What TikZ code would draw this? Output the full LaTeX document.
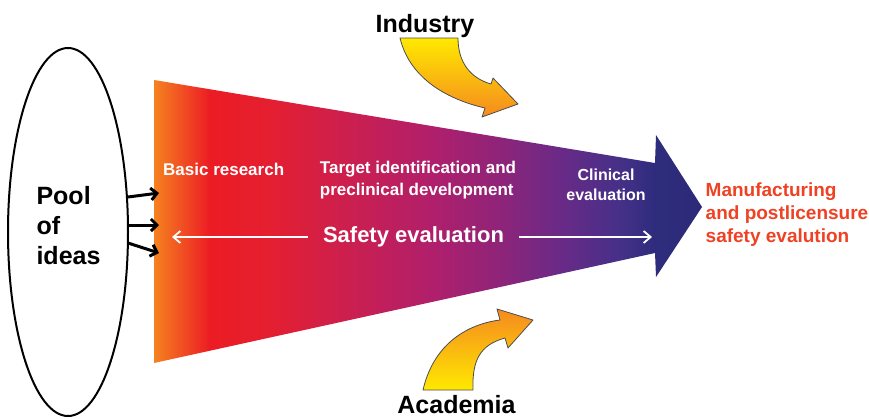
\documentclass[tikz,border=0pt]{standalone}
\usepackage{fontspec}
\setmainfont{Liberation Sans}
\usetikzlibrary{arrows.meta,shapes.geometric}
\definecolor{cA}{HTML}{F58220}
\definecolor{cB}{HTML}{EC1C24}
\definecolor{cC}{HTML}{E41F30}
\definecolor{cD}{HTML}{CB1F50}
\definecolor{cE}{HTML}{B11F6B}
\definecolor{cF}{HTML}{8E2479}
\definecolor{cG}{HTML}{6A2A87}
\definecolor{cH}{HTML}{453088}
\definecolor{cI}{HTML}{2E2C7C}
\definecolor{cJ}{HTML}{2C2A78}
\definecolor{ylw}{HTML}{FFE900}
\definecolor{org}{HTML}{F58A1F}
\definecolor{edgegray}{HTML}{4D4D4D}
\definecolor{mfgred}{HTML}{EF4123}
\pgfdeclarehorizontalshading{funnelshade}{100bp}{color(0bp)=(cA); color(25bp)=(cA); color(30.1bp)=(cB); color(35.6bp)=(cC); color(42.9bp)=(cD); color(50.2bp)=(cE); color(56.6bp)=(cF); color(62bp)=(cG); color(67.5bp)=(cH); color(70.8bp)=(cI); color(75bp)=(cJ); color(100bp)=(cJ)}
\begin{document}
\begin{tikzpicture}[x=1pt,y=-1pt,
  wlbl/.style={font=\bfseries\fontsize{17}{22}\selectfont, text=white, inner sep=0pt},
  big/.style={font=\bfseries\fontsize{25}{30}\selectfont, text=black, inner sep=0pt},
  blk/.style={draw=black, line width=3pt, -{Straight Barb[length=6pt,width=12pt]}},
  wht/.style={draw=white, line width=1.8pt, -{Straight Barb[length=7pt,width=12pt]}},
  curved/.style={draw=edgegray, line width=0.8pt, line join=round}]
\useasboundingbox (0,0) rectangle (869,418);
% funnel arrow
\shade[shading=funnelshade] (154,80) -- (655,163) -- (656,135) -- (702,207) -- (656,277) -- (655,253) -- (154,363) -- cycle;
% industry arrow
\shade[curved, top color=ylw, bottom color=org]
  (400,38) -- (458,38) .. controls (458,62) and (470,78) .. (491,84) -- (493,78) -- (518,104) -- (482,117) -- (485,108) .. controls (450,100) and (410,80) .. (400,38) -- cycle;
% academia arrow
\shade[curved, top color=org, bottom color=ylw]
  (423,390) -- (473,390) .. controls (472,360) and (480,345) .. (505,338) -- (508,348) -- (533,320) -- (497,309) -- (500,320) .. controls (475,323) and (435,338) .. (423,390) -- cycle;
% pool of ideas
\node[draw=black, ellipse, line width=2pt, minimum width=120pt, minimum height=368pt, inner sep=0pt] (pool) at (68,232) {};
\node[big, align=left] (pooltxt) at (68.5,226) {Pool\\of\\ideas};
\coordinate (p1) at (128,197); \coordinate (f1) at (159,193);
\coordinate (p2) at (128,225); \coordinate (f2) at (159,225);
\coordinate (p3) at (128,243); \coordinate (f3) at (159,253);
\draw[blk] (p1) -- (f1);
\draw[blk] (p2) -- (f2);
\draw[blk] (p3) -- (f3);
% labels in funnel
\node[wlbl, anchor=base west] (basic) at (163,175) {Basic research};
\node[wlbl, align=left] (target) at (418,179.6) {Target identification and\\preclinical development};
\node[wlbl, align=center, font=\bfseries\fontsize{16}{20}\selectfont] (clin) at (606,185) {Clinical\\evaluation};
\node[wlbl, font=\bfseries\fontsize{22}{26}\selectfont, anchor=base, inner xsep=15pt] (safety) at (413.5,242) {Safety evaluation};
\coordinate (sl) at (172,237);
\coordinate (sr) at (652,237);
\draw[wht] (safety.west |- sl) -- (sl);
\draw[wht] (safety.east |- sr) -- (sr);
% outside labels
\node[big, anchor=base] (industry) at (425,32) {Industry};
\node[big, anchor=base] (academia) at (456.5,413) {Academia};
\node[inner sep=0pt, align=left, text=mfgred, font=\bfseries\fontsize{19}{23}\selectfont] (mfg) at (787,215) {Manufacturing\\and postlicensure\\safety evalution};
\end{tikzpicture}
\end{document}
